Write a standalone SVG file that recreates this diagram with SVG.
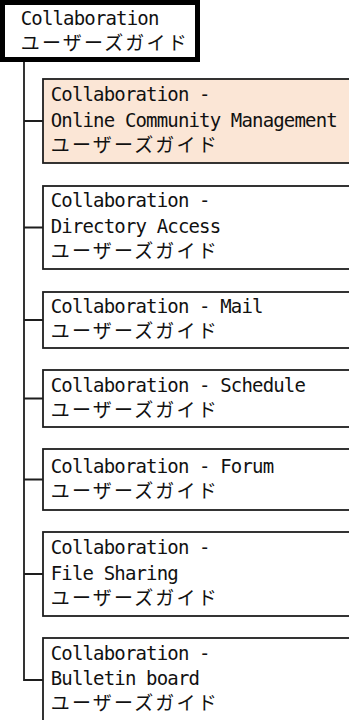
<svg xmlns="http://www.w3.org/2000/svg" width="349" height="720" viewBox="0 0 349 720">
<style>
.bx{fill:#ffffff;stroke:#1e1e1e;stroke-width:1.8}
.hl{fill:#fbe6d6}
.top{fill:#ffffff;stroke:#000000;stroke-width:5}
.ln{fill:none;stroke:#1e1e1e;stroke-width:1.8}
.t{font-family:"DejaVu Sans Mono","Liberation Mono",monospace;font-size:19px;letter-spacing:-0.84px;fill:#111}
.j{font-family:"Noto Sans CJK JP","Noto Sans CJK SC",sans-serif;font-size:19px;letter-spacing:2.2px;fill:#111}
</style>
<rect width="349" height="720" fill="#ffffff"/>
<g id="connectors">
<path class="ln" d="M24 62 V680 H43"/>
<path class="ln" d="M24 121 H43 M24 227.5 H43 M24 320 H43 M24 398.5 H43 M24 479.5 H43 M24 574 H43"/>
</g>
<g id="root">
<rect class="top" x="2.5" y="2.5" width="195" height="57"/>
<text class="t" x="20.7" y="25">Collaboration</text>
<text class="j" x="20.7" y="50">ユーザーズガイド</text>
</g>
<g id="n1">
<rect class="bx hl" x="43" y="79" width="320" height="84"/>
<text class="t" x="50.7" y="101">Collaboration -</text>
<text class="t" x="50.7" y="126.5">Online Community Management</text>
<text class="j" x="50.7" y="152">ユーザーズガイド</text>
</g>
<g id="n2">
<rect class="bx" x="43" y="186" width="320" height="83"/>
<text class="t" x="50.7" y="207">Collaboration -</text>
<text class="t" x="50.7" y="232.5">Directory Access</text>
<text class="j" x="50.7" y="258">ユーザーズガイド</text>
</g>
<g id="n3">
<rect class="bx" x="43" y="292" width="320" height="56"/>
<text class="t" x="50.7" y="313">Collaboration - Mail</text>
<text class="j" x="50.7" y="338">ユーザーズガイド</text>
</g>
<g id="n4">
<rect class="bx" x="43" y="370" width="320" height="57"/>
<text class="t" x="50.7" y="392">Collaboration - Schedule</text>
<text class="j" x="50.7" y="417">ユーザーズガイド</text>
</g>
<g id="n5">
<rect class="bx" x="43" y="449" width="320" height="61"/>
<text class="t" x="50.7" y="473">Collaboration - Forum</text>
<text class="j" x="50.7" y="498">ユーザーズガイド</text>
</g>
<g id="n6">
<rect class="bx" x="43" y="532" width="320" height="84"/>
<text class="t" x="50.7" y="554">Collaboration -</text>
<text class="t" x="50.7" y="580">File Sharing</text>
<text class="j" x="50.7" y="605">ユーザーズガイド</text>
</g>
<g id="n7">
<rect class="bx" x="43" y="638" width="320" height="84"/>
<text class="t" x="50.7" y="660">Collaboration -</text>
<text class="t" x="50.7" y="685">Bulletin board</text>
<text class="j" x="50.7" y="710">ユーザーズガイド</text>
</g>
</svg>
